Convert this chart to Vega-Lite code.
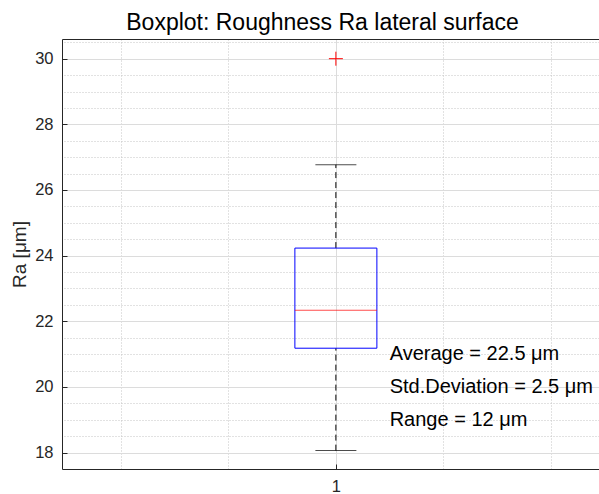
{
  "$schema": "https://vega.github.io/schema/vega-lite/v6.json",
  "width": 537,
  "height": 430,
  "autosize": {"type": "none"},
  "padding": {"left": 62, "top": 39, "right": 0, "bottom": 25},
  "background": "white",
  "title": {
    "text": "Boxplot: Roughness Ra lateral surface",
    "font": "Liberation Sans",
    "fontSize": 23,
    "fontWeight": "normal",
    "color": "#000000",
    "anchor": "middle",
    "offset": 4,
    "dx": -8
  },
  "config": {
    "view": {"stroke": null},
    "font": "Liberation Sans",
    "axis": {"labelFont": "Liberation Sans", "titleFont": "Liberation Sans"}
  },
  "datasets": {
    "summary": [
      {"group": 1, "lower": 18.06, "q1": 21.18, "median": 22.34, "q3": 24.23, "upper": 26.77}
    ],
    "outliers": [
      {"group": 1, "value": 30}
    ],
    "notes": [
      {"x": 1.1, "y": 21, "label": "Average = 22.5 μm"},
      {"x": 1.1, "y": 20, "label": "Std.Deviation = 2.5 μm"},
      {"x": 1.1, "y": 19, "label": "Range = 12 μm"}
    ]
  },
  "layer": [
    {
      "data": {"name": "summary"},
      "layer": [
        {
          "mark": {"type": "rule", "strokeDash": [6, 4], "color": "#000000", "strokeWidth": 1},
          "encoding": {
            "x": {
              "field": "group", "type": "quantitative",
              "scale": {"domain": [0.5, 1.48], "nice": false, "zero": false},
              "axis": {
                "orient": "bottom", "values": [1], "format": "d",
                "grid": true, "gridColor": "#dcdcdc",
                "tickSize": -5, "tickColor": "#262626",
                "domainColor": "#262626",
                "labelColor": "#262626", "labelFontSize": 16.5, "labelPadding": 14,
                "title": null
              }
            },
            "y": {
              "field": "q3", "type": "quantitative",
              "scale": {"domain": [17.5, 30.6], "nice": false, "zero": false},
              "axis": {
                "orient": "left", "values": [18, 20, 22, 24, 26, 28, 30],
                "grid": true, "gridColor": "#dcdcdc",
                "tickSize": -5, "tickColor": "#262626",
                "domainColor": "#262626",
                "labelColor": "#262626", "labelFontSize": 16.5, "labelPadding": 14,
                "title": "Ra [μm]", "titleFontSize": 19, "titleFontWeight": "normal",
                "titleColor": "#262626", "titlePadding": 5
              }
            },
            "y2": {"field": "upper"}
          }
        },
        {
          "mark": {"type": "rule", "strokeDash": [6, 4], "color": "#000000", "strokeWidth": 1},
          "encoding": {
            "x": {"field": "group", "type": "quantitative"},
            "y": {"field": "lower", "type": "quantitative"},
            "y2": {"field": "q1"}
          }
        },
        {
          "mark": {"type": "tick", "orient": "horizontal", "size": 41, "thickness": 1, "color": "#000000"},
          "encoding": {
            "x": {"field": "group", "type": "quantitative"},
            "y": {"field": "upper", "type": "quantitative"}
          }
        },
        {
          "mark": {"type": "tick", "orient": "horizontal", "size": 41, "thickness": 1, "color": "#000000"},
          "encoding": {
            "x": {"field": "group", "type": "quantitative"},
            "y": {"field": "lower", "type": "quantitative"}
          }
        },
        {
          "mark": {"type": "bar", "width": 82, "fillOpacity": 0, "stroke": "#0000ff", "strokeWidth": 1},
          "encoding": {
            "x": {"field": "group", "type": "quantitative"},
            "y": {"field": "q1", "type": "quantitative"},
            "y2": {"field": "q3"}
          }
        },
        {
          "mark": {"type": "tick", "orient": "horizontal", "size": 82, "thickness": 1, "color": "#ff0000"},
          "encoding": {
            "x": {"field": "group", "type": "quantitative"},
            "y": {"field": "median", "type": "quantitative"}
          }
        }
      ]
    },
    {
      "data": {"name": "outliers"},
      "mark": {
        "type": "point", "shape": "M-1,0L1,0M0,-1L0,1", "size": 196,
        "filled": false, "stroke": "#ff0000", "strokeWidth": 1, "opacity": 1
      },
      "encoding": {
        "x": {
          "field": "group", "type": "quantitative",
          "scale": {"domain": [0.5, 1.48], "nice": false, "zero": false},
          "axis": {
            "orient": "top", "values": [0.6, 0.8, 1.2, 1.4],
            "grid": true, "gridDash": [1, 2], "gridColor": "#c4c4c4",
            "ticks": false, "labels": false,
            "domain": true, "domainColor": "#262626", "title": null
          }
        },
        "y": {
          "field": "value", "type": "quantitative",
          "scale": {"domain": [17.5, 30.6], "nice": false, "zero": false},
          "axis": {
            "orient": "right",
            "values": [18.5, 19, 19.5, 20.5, 21, 21.5, 22.5, 23, 23.5, 24.5, 25, 25.5, 26.5, 27, 27.5, 28.5, 29, 29.5, 30.5],
            "grid": true, "gridDash": [1, 2], "gridColor": "#c4c4c4",
            "ticks": false, "labels": false, "domain": false, "title": null
          }
        }
      }
    },
    {
      "data": {"name": "notes"},
      "mark": {"type": "text", "align": "left", "baseline": "middle", "fontSize": 20, "color": "#000000", "font": "Liberation Sans"},
      "encoding": {
        "x": {"field": "x", "type": "quantitative", "scale": {"domain": [0.5, 1.48], "nice": false, "zero": false}, "axis": null},
        "y": {"field": "y", "type": "quantitative", "scale": {"domain": [17.5, 30.6], "nice": false, "zero": false}, "axis": null},
        "text": {"field": "label"}
      }
    }
  ],
  "resolve": {"axis": {"x": "independent", "y": "independent"}}
}
